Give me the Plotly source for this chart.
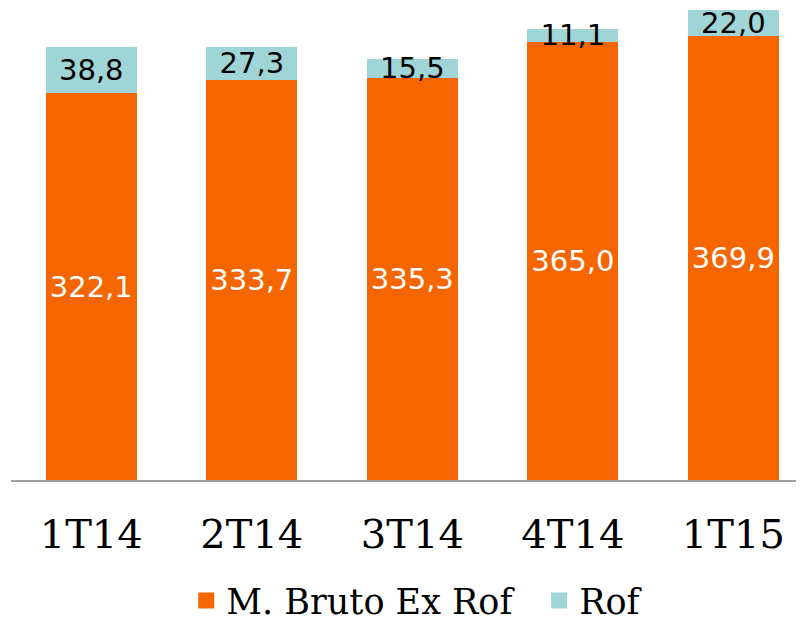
import plotly.graph_objects as go

quarters = ["1T14", "2T14", "3T14", "4T14", "1T15"]
bruto_ex_rof = [322.1, 333.7, 335.3, 365.0, 369.9]
rof = [38.8, 27.3, 15.5, 11.1, 22.0]

series_names = ["M. Bruto Ex Rof", "Rof"]
series_colors = ["#F56600", "#A0D5D8"]
label_colors = ["white", "black"]


def fmt(v):
    return f"{v:.1f}".replace(".", ",")


fig = go.Figure()

for name, vals, color, tcolor in zip(series_names, [bruto_ex_rof, rof], series_colors, label_colors):
    fig.add_trace(go.Bar(
        x=quarters,
        y=vals,
        name=name,
        showlegend=False,
        marker=dict(color=color, line=dict(width=0)),
        text=[fmt(v) for v in vals],
        textposition="inside",
        insidetextanchor="middle",
        textangle=0,
        constraintext="none",
        cliponaxis=False,
        textfont=dict(family="DejaVu Sans, Verdana, sans-serif", size=29, color=tcolor),
        hoverinfo="skip",
    ))

# legend entries with bigger square swatches, one legend each so the spacing can be set
for name, color, leg in zip(series_names, series_colors, ["legend", "legend2"]):
    fig.add_trace(go.Scatter(
        x=[None],
        y=[None],
        mode="markers",
        name=name,
        legend=leg,
        marker=dict(symbol="square", size=20, color=color),
    ))

legend_style = dict(
    orientation="h",
    xanchor="left",
    y=-0.256,
    yanchor="middle",
    font=dict(family="DejaVu Serif, serif", size=35, color="black"),
    itemwidth=30,
    bgcolor="rgba(0,0,0,0)",
)

# page body has an 8px margin, so the figure is sized to the visible area
fig.update_layout(
    barmode="stack",
    bargap=0.433,
    width=796,
    height=610,
    paper_bgcolor="white",
    plot_bgcolor="white",
    font=dict(family="DejaVu Serif, serif", color="black"),
    margin=dict(l=3, r=0, t=0, b=138, autoexpand=False),
    xaxis=dict(
        range=[-0.5, 4.44],
        automargin=False,
        showline=True,
        linecolor="#A0A0A0",
        linewidth=2,
        ticks="",
        showgrid=False,
        tickfont=dict(family="DejaVu Serif, serif", size=40, color="black"),
        ticklabelstandoff=18,
    ),
    yaxis=dict(
        range=[0, 393.33],
        visible=False,
    ),
    legend=dict(x=0.221, **legend_style),
    legend2=dict(x=0.666, **legend_style),
    showlegend=True,
)

fig.write_html("out.html")
